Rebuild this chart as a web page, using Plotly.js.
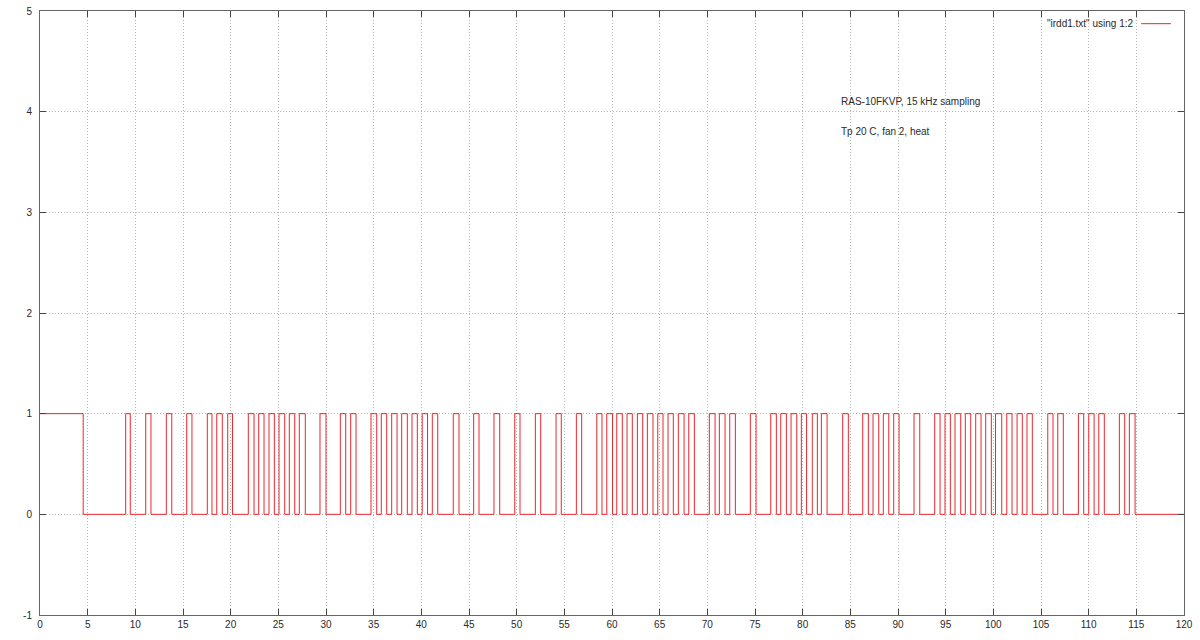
<!DOCTYPE html>
<html>
<head>
<meta charset="utf-8">
<script src="https://cdn.plot.ly/plotly-3.0.1.min.js"></script>
<style>html,body{margin:0;padding:0;background:#fff;}#chart{width:1200px;height:640px;}</style>
</head>
<body>
<div id="chart"></div>
<script>
// Signal: high leader until headerEnd, then pulses (value 1) from pulseStart[i] to pulseEnd[i]
const leaderLevel = 1;
const headerEnd = 4.53;
const signalEnd = 120;
const pulseStart = [8.99, 11.09, 13.25, 15.39, 17.55, 18.54, 19.69, 21.85, 22.94, 24.02,
  25.07, 26.15, 27.20, 29.37, 31.50, 32.59, 34.72, 35.80, 36.89, 37.94,
  39.02, 40.09, 41.15, 43.35, 45.49, 47.62, 49.80, 51.96, 54.13, 56.26,
  58.40, 59.45, 60.50, 61.58, 62.66, 63.71, 64.80, 65.88, 66.96, 68.05,
  70.21, 71.26, 72.35, 74.51, 76.65, 77.70, 78.78, 79.86, 81.01, 81.96,
  84.20, 86.30, 87.38, 88.46, 89.55, 91.68, 93.85, 94.93, 95.98, 97.06,
  98.15, 99.20, 100.23, 101.41, 102.49, 103.53, 105.71, 106.76, 108.92, 110.01,
  111.06, 113.22, 114.27];
const pulseEnd = [9.47, 11.64, 13.82, 15.94, 18.04, 19.12, 20.19, 22.45, 23.50, 24.58,
  25.67, 26.72, 27.83, 30.00, 32.07, 33.15, 35.32, 36.37, 37.45, 38.53,
  39.58, 40.65, 41.72, 43.95, 46.05, 48.22, 50.35, 52.52, 54.68, 56.82,
  58.95, 60.05, 61.08, 62.13, 63.22, 64.30, 65.35, 66.43, 67.56, 68.64,
  70.81, 71.86, 72.94, 75.11, 77.24, 78.29, 79.38, 80.41, 81.54, 82.56,
  84.79, 86.89, 87.98, 89.03, 90.11, 92.28, 94.41, 95.49, 96.58, 97.63,
  98.71, 99.79, 100.88, 101.96, 103.04, 104.09, 106.26, 107.34, 109.48, 110.57,
  111.64, 113.78, 114.87];
const xTicks = [0,5,10,15,20,25,30,35,40,45,50,55,60,65,70,75,80,85,90,95,100,105,110,115,120];
const yTicks = [-1,0,1,2,3,4,5];
const seriesName = '"irdd1.txt" using 1:2';
const noteLines = ['RAS-10FKVP, 15 kHz sampling', 'Tp 20 C, fan 2, heat'];
const noteX = 83.8;
const noteY = [4.10, 3.80];

const xs = [0, headerEnd];
const ys = [leaderLevel, 0];
for (let i = 0; i < pulseStart.length; i++) {
  xs.push(pulseStart[i]); ys.push(1);
  xs.push(pulseEnd[i]); ys.push(0);
}
xs.push(signalEnd); ys.push(0);

const font = {family: 'Liberation Sans, Arial, sans-serif', size: 10, color: '#2a2a2a'};
const axisCommon = {
  showline: true, linecolor: '#666', linewidth: 1, mirror: 'ticks',
  ticks: 'inside', ticklen: 6, tickcolor: '#444', tickwidth: 1,
  showgrid: true, gridcolor: '#b4b4b4', griddash: '1px,2px', gridwidth: 1,
  zeroline: false, tickfont: font
};

const trace = {
  x: xs, y: ys, type: 'scatter', mode: 'lines', name: seriesName,
  line: {shape: 'hv', color: '#e8282e', width: 1},
  hoverinfo: 'skip'
};

const layout = {
  width: 1200, height: 640,
  margin: {l: 40, r: 16, t: 11, b: 25},
  paper_bgcolor: '#fff', plot_bgcolor: '#fff',
  showlegend: false,
  font: font,
  xaxis: Object.assign({}, axisCommon, {range: [0, 120], tickvals: xTicks, ticktext: xTicks.map(String)}),
  yaxis: Object.assign({}, axisCommon, {range: [-1, 5], tickvals: yTicks, ticktext: yTicks.map(String), ticklabelstandoff: 5}),
  annotations: [
    {xref: 'x', yref: 'y', x: noteX, y: noteY[0], text: noteLines[0], showarrow: false, xanchor: 'left', yanchor: 'middle', font: font},
    {xref: 'x', yref: 'y', x: noteX, y: noteY[1], text: noteLines[1], showarrow: false, xanchor: 'left', yanchor: 'middle', font: font},
    {xref: 'paper', yref: 'paper', x: 0.957, y: 0.979, text: seriesName, showarrow: false, xanchor: 'right', yanchor: 'middle', font: font}
  ],
  shapes: [
    {type: 'line', xref: 'paper', yref: 'paper', x0: 0.9625, x1: 0.9886, y0: 0.979, y1: 0.979, line: {color: '#e8282e', width: 1}}
  ]
};

Plotly.newPlot('chart', [trace], layout, {displayModeBar: false, staticPlot: true});
</script>
</body>
</html>
